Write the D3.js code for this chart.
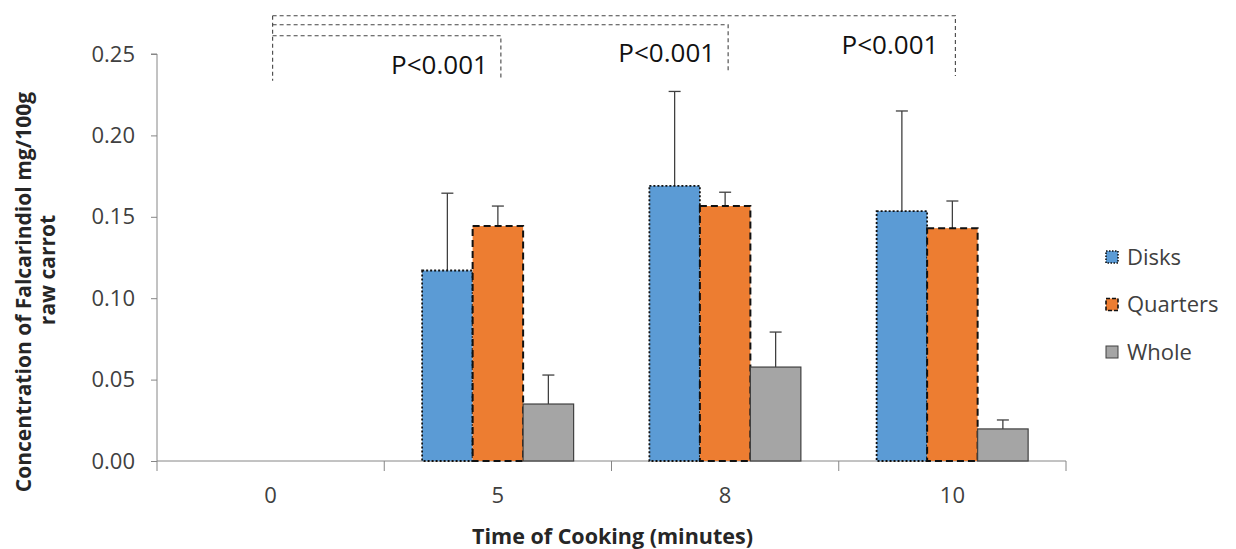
<!DOCTYPE html>
<html><head><meta charset="utf-8">
<script src="https://cdn.jsdelivr.net/npm/d3@7"></script>
<style>body{margin:0;background:#fff;} text{font-family:"Open Sans",Carlito,Calibri,sans-serif;}</style>
</head><body>
<svg id="chart" width="1236" height="549"></svg>
<script>
const categories = ["0","5","8","10"];
const seriesNames = ["Disks","Quarters","Whole"];
const disks = [0, 0.117, 0.169, 0.1535];
const quarters = [0, 0.1443, 0.1566, 0.143];
const whole = [0, 0.035, 0.0577, 0.0197];
const disksErr = [0, 0.0475, 0.058, 0.0615];
const quartersErr = [0, 0.0123, 0.0085, 0.0167];
const wholeErr = [0, 0.0178, 0.0215, 0.0055];
const yTicks = [0, 0.05, 0.10, 0.15, 0.20, 0.25];
const brackets = [
  {from:"0", to:"5", y:0.2612, yEnd:0.2355, label:"P<0.001", labelY:0.2375, gap:13},
  {from:"0", to:"8", y:0.2680, yEnd:0.2395, label:"P<0.001", labelY:0.2452, gap:13},
  {from:"0", to:"10", y:0.2735, yEnd:0.2365, label:"P<0.001", labelY:0.2500, gap:17}
];

const colors = ["#5B9BD5","#ED7D31","#A5A5A5"];
const strokes = [{c:"#111",w:1.8,d:"2,2"},{c:"#111",w:2,d:"7,4"},{c:"#404040",w:1.2,d:null}];

const svg = d3.select("#chart");
const m = {left:157, right:1066, top:54, bottom:461};
const x = d3.scaleBand().domain(categories).range([m.left, m.right]).paddingInner(0).paddingOuter(0);
const y = d3.scaleLinear().domain([0,0.25]).range([m.bottom, m.top]);
const xs = d3.scaleBand().domain(seriesNames).range([0, x.bandwidth()]).paddingInner(0).paddingOuter(0.75);

// y axis
const yAxis = svg.append("g").attr("transform",`translate(${m.left},0)`)
  .call(d3.axisLeft(y).tickValues(yTicks).tickFormat(d3.format(".2f")).tickSize(6).tickPadding(16));
yAxis.select(".domain").attr("stroke","#868686").attr("d",`M-6,${y(0.25)}H0V${y(0)}`);
yAxis.selectAll(".tick line").attr("stroke","#868686");
yAxis.selectAll(".tick text").attr("font-size",22).attr("fill","#404040").attr("font-family","Open Sans");

// x axis
const xAxis = svg.append("g").attr("transform",`translate(0,${m.bottom})`)
  .call(d3.axisBottom(x).tickSize(0).tickPadding(26));
xAxis.select(".domain").attr("stroke","#868686").attr("d",`M${m.left},0H${m.right}`);
xAxis.selectAll(".tick text").attr("font-size",22).attr("fill","#404040").attr("font-family","Open Sans");
const bounds = categories.map(c => x(c)).concat([m.right]);
xAxis.selectAll(".bound").data(bounds).enter().append("line")
  .attr("x1",d=>d).attr("x2",d=>d).attr("y1",0).attr("y2",10).attr("stroke","#868686");

// bars
const series = [disks, quarters, whole];
const errs = [disksErr, quartersErr, wholeErr];
seriesNames.forEach((s,si) => {
  const g = svg.append("g");
  const data = categories.map((c,i)=>({c, v:series[si][i], e:errs[si][i]})).filter(d=>d.v>0);
  data.forEach(d => {
    const cx = x(d.c) + xs(s) + xs.bandwidth()/2;
    g.append("line").attr("x1",cx).attr("x2",cx).attr("y1",y(d.v)).attr("y2",y(d.v+d.e)).attr("stroke","#404040").attr("stroke-width",1.3);
    g.append("line").attr("x1",cx-6).attr("x2",cx+6).attr("y1",y(d.v+d.e)).attr("y2",y(d.v+d.e)).attr("stroke","#404040").attr("stroke-width",1.3);
  });
  g.selectAll("rect").data(data).enter().append("rect")
    .attr("x",d=>x(d.c)+xs(s)).attr("width",xs.bandwidth())
    .attr("y",d=>y(d.v)).attr("height",d=>y(0)-y(d.v))
    .attr("fill",colors[si]).attr("stroke",strokes[si].c).attr("stroke-width",strokes[si].w)
    .attr("stroke-dasharray",strokes[si].d);
});

// brackets
const bg = svg.append("g").attr("fill","none").attr("stroke","#444").attr("stroke-width",1.1).attr("stroke-dasharray","4,3");
const leftX = x("0") + x.bandwidth()/2 + 2;
bg.append("line").attr("x1",leftX).attr("x2",leftX).attr("y1",y(d3.max(brackets,b=>b.y))).attr("y2",y(0.2335));
brackets.forEach(b => {
  const rx = x(b.to) + x.bandwidth()/2 + 3;
  bg.append("path").attr("d",`M${leftX},${y(b.y)}H${rx}V${y(b.yEnd)}`);
  svg.append("text").attr("x",rx-b.gap).attr("y",y(b.labelY)).attr("text-anchor","end")
    .attr("font-size",26).attr("fill","#111").attr("font-family","Open Sans").text(b.label);
});

// axis titles
svg.append("text").attr("x",(m.left+m.right)/2 + 1).attr("y",544).attr("text-anchor","middle")
  .attr("font-size",21.5).attr("font-weight","bold").attr("fill","#262626").text("Time of Cooking (minutes)");
svg.append("text").attr("transform",`translate(31,292) rotate(-90)`).attr("text-anchor","middle")
  .attr("font-size",21).attr("font-weight","bold").attr("fill","#262626").text("Concentration of Falcarindiol mg/100g");
svg.append("text").attr("transform",`translate(55,270) rotate(-90)`).attr("text-anchor","middle")
  .attr("font-size",21).attr("font-weight","bold").attr("fill","#262626").text("raw carrot");

// legend
const lg = svg.append("g");
seriesNames.forEach((s,i) => {
  const ly = 257 + i*47.5;
  lg.append("rect").attr("x",1106).attr("y",ly-6).attr("width",12).attr("height",12)
    .attr("fill",colors[i]).attr("stroke",strokes[i].c).attr("stroke-width",strokes[i].w===1.2?1:1.6)
    .attr("stroke-dasharray",strokes[i].d ? (i===0?"1.5,1.5":"4,2") : null);
  lg.append("text").attr("x",1127).attr("y",ly).attr("dy","0.35em").attr("font-size",22)
    .attr("fill","#404040").text(s);
});
</script>
</body></html>
